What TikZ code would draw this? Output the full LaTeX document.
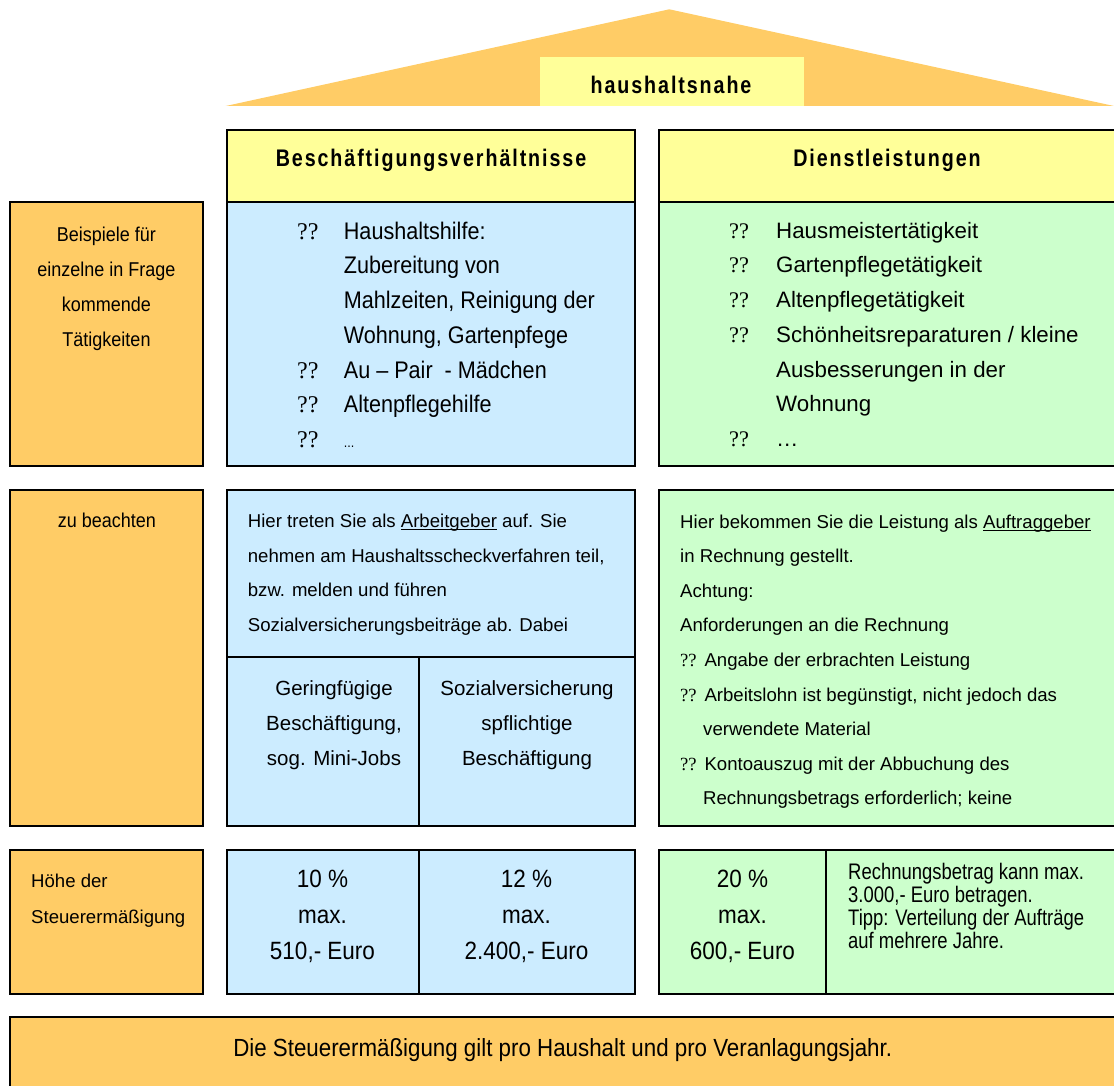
\documentclass[tikz,border=0pt]{standalone}
\usepackage{fontspec}
\setmainfont{Liberation Sans}
\newfontfamily\qfont{Liberation Serif}
\newfontfamily\condfont[FakeStretch=0.9]{Liberation Sans}
\newfontfamily\narrowfont[FakeStretch=0.82]{Liberation Sans}
\newfontfamily\headfont[FakeStretch=0.82,LetterSpace=8]{Liberation Sans}
\definecolor{roofcol}{HTML}{FFCC66}
\definecolor{headcol}{HTML}{FFFF99}
\definecolor{bluecol}{HTML}{CCECFF}
\definecolor{greencol}{HTML}{CCFFCC}
\newcommand{\setsize}[2]{\fontsize{#1}{#2}\selectfont}
\newcommand{\ulined}[1]{\setbox0=\hbox{#1}\rlap{\rule[-3pt]{\wd0}{1.5pt}}\box0\relax}

\begin{document}
\begin{tikzpicture}
[x=1pt,y=-1pt,
 cell/.style={draw,line width=1.3pt,anchor=north west,inner sep=0pt,outer sep=0pt},
 labelcell/.style={cell,fill=roofcol},
 headcell/.style={cell,fill=headcol},
 bluecell/.style={cell,fill=bluecol},
 greencell/.style={cell,fill=greencol},
 txt/.style={anchor=base west,inner sep=0pt},
 ctr/.style={anchor=base,inner sep=0pt}]

\useasboundingbox (0,0) rectangle (1114,1086);

\fill[roofcol] (225.7,106) -- (669.3,9.3) -- (1114,106) -- cycle;
\node (roof) at (539.5,57.3) [anchor=north west,fill=headcol,inner sep=0pt,minimum width=264,minimum height=48.7] {};
\node (rooftxt) at (671,93.3) [ctr] {\headfont\bfseries\setsize{24}{28}haushaltsnahe};

\node (headL) at (227,130) [headcell,minimum width=408,minimum height=72] {};
\node (headR) at (659,130) [headcell,minimum width=458,minimum height=72] {};
\node (headLtxt) at (431,166.7) [ctr] {\headfont\bfseries\setsize{24}{28}Beschäftigungsverhältnisse};
\node (headRtxt) at (887,166.7) [ctr] {\headfont\bfseries\setsize{24}{28}Dienstleistungen};

% Beispiele
\node (lab1) at (10,202) [labelcell,minimum width=193,minimum height=264] {};
\node (blue1) at (227,202) [bluecell,minimum width=408,minimum height=264] {};
\node (green1) at (659,202) [greencell,minimum width=458,minimum height=264] {};

\node (lab1txt) at (106.5,242) [ctr] {\condfont\setsize{20}{34.7}\begin{tabular}[t]{@{}c@{}}
Beispiele für\\ einzelne in Frage\\ kommende\\ Tätigkeiten\end{tabular}};
\node (blue1txt) at (297,239.3) [txt] {\condfont\setsize{24}{34.7}\begin{tabular}[t]{@{}l@{}l@{}}
\makebox[46.7pt][l]{\qfont ??} & Haushaltshilfe:\\
 & Zubereitung von\\
 & Mahlzeiten, Reinigung der\\
 & Wohnung, Gartenpfege\\
\makebox[46.7pt][l]{\qfont ??} & Au – Pair \ - Mädchen\\
\makebox[46.7pt][l]{\qfont ??} & Altenpflegehilfe\\
\makebox[46.7pt][l]{\qfont ??} & {\setsize{14}{34.7}...}\end{tabular}};
\node (green1txt) at (729,238.3) [txt] {\setsize{22.3}{34.7}\begin{tabular}[t]{@{}l@{}l@{}}
\makebox[47pt][l]{\qfont ??} & Hausmeistertätigkeit\\
\makebox[47pt][l]{\qfont ??} & Gartenpflegetätigkeit\\
\makebox[47pt][l]{\qfont ??} & Altenpflegetätigkeit\\
\makebox[47pt][l]{\qfont ??} & Schönheitsreparaturen / kleine\\
 & Ausbesserungen in der\\
 & Wohnung\\
\makebox[47pt][l]{\qfont ??} & …\end{tabular}};

% zu beachten
\node (lab2) at (10,490) [labelcell,minimum width=193,minimum height=336] {};
\node (blue2) at (227,490) [bluecell,minimum width=408,minimum height=167] {};
\node (blue2a) at (227,657) [bluecell,minimum width=192,minimum height=169] {};
\node (blue2b) at (419,657) [bluecell,minimum width=216,minimum height=169] {};
\node (green2) at (659,490) [greencell,minimum width=458,minimum height=336] {};

\node (lab2txt) at (107,527) [ctr] {\condfont\setsize{20}{34.7}zu beachten};
\node (blue2txt) at (247.7,527.3) [txt] {\setsize{18.6}{34.8}\begin{tabular}[t]{@{}l@{}}
Hier treten Sie als \ulined{Arbeitgeber} auf. Sie\\
nehmen am Haushaltsscheckverfahren teil,\\
bzw. melden und führen\\
Sozialversicherungsbeiträge ab. Dabei\end{tabular}};
\node (blue2atxt) at (334,695.3) [ctr] {\setsize{20.5}{34.9}\begin{tabular}[t]{@{}c@{}}
Geringfügige\\ Beschäftigung,\\ sog. Mini-Jobs\end{tabular}};
\node (blue2btxt) at (527,695.3) [ctr] {\setsize{20.5}{34.9}\begin{tabular}[t]{@{}c@{}}
Sozialversicherung\\ spflichtige\\ Beschäftigung\end{tabular}};
\node (green2txt) at (680,528) [txt] {\setsize{18.6}{34.6}\begin{tabular}[t]{@{}l@{}}
Hier bekommen Sie die Leistung als \ulined{Auftraggeber}\\
in Rechnung gestellt.\\
Achtung:\\
Anforderungen an die Rechnung\\
\makebox[24.3pt][l]{\qfont ??}Angabe der erbrachten Leistung\\
\makebox[24.3pt][l]{\qfont ??}Arbeitslohn ist begünstigt, nicht jedoch das\\
\hspace*{23pt}verwendete Material\\
\makebox[24.3pt][l]{\qfont ??}Kontoauszug mit der Abbuchung des\\
\hspace*{23pt}Rechnungsbetrags erforderlich; keine\end{tabular}};

% Hoehe der Steuerermaessigung
\node (lab3) at (10,850) [labelcell,minimum width=193,minimum height=144] {};
\node (blue3a) at (227,850) [bluecell,minimum width=192,minimum height=144] {};
\node (blue3b) at (419,850) [bluecell,minimum width=216,minimum height=144] {};
\node (green3a) at (659,850) [greencell,minimum width=167,minimum height=144] {};
\node (green3b) at (826,850) [greencell,minimum width=291,minimum height=144] {};

\node (lab3txt) at (31,887) [txt] {\setsize{18.6}{36}\begin{tabular}[t]{@{}l@{}}
Höhe der\\ Steuerermäßigung\end{tabular}};
\node (blue3atxt) at (322.5,887) [ctr] {\condfont\setsize{25}{36}\begin{tabular}[t]{@{}c@{}}
10 \%\\ max.\\ 510,- Euro\end{tabular}};
\node (blue3btxt) at (526.5,887) [ctr] {\condfont\setsize{25}{36}\begin{tabular}[t]{@{}c@{}}
12 \%\\ max.\\ 2.400,- Euro\end{tabular}};
\node (green3atxt) at (742.5,887) [ctr] {\condfont\setsize{25}{36}\begin{tabular}[t]{@{}c@{}}
20 \%\\ max.\\ 600,- Euro\end{tabular}};
\node (green3btxt) at (848,879) [txt] {\narrowfont\setsize{22.5}{23}\begin{tabular}[t]{@{}l@{}}
Rechnungsbetrag kann max.\\ 3.000,- Euro betragen.\\ Tipp: Verteilung der Aufträge\\ auf mehrere Jahre.\end{tabular}};

\node (foot) at (10,1017) [labelcell,minimum width=1107,minimum height=80] {};
\node (foottxt) at (562.7,1056.7) [ctr] {\condfont\setsize{24.8}{30}Die Steuerermäßigung gilt pro Haushalt und pro Veranlagungsjahr.};
\end{tikzpicture}
\end{document}
